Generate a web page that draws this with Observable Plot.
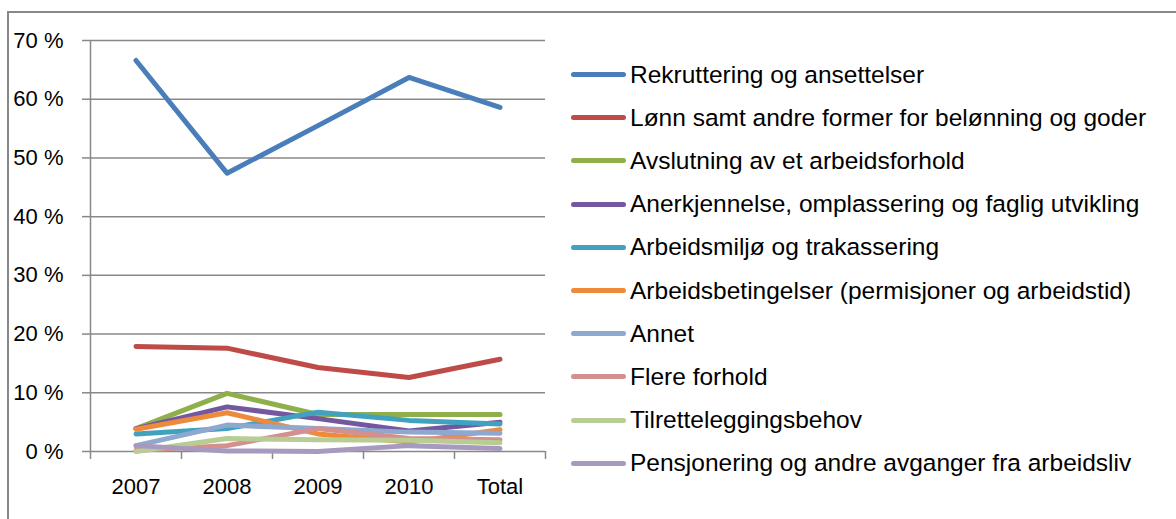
<!DOCTYPE html>
<html><head><meta charset="utf-8">
<script src="https://cdn.jsdelivr.net/npm/d3@7"></script>
<script src="https://cdn.jsdelivr.net/npm/@observablehq/plot@0.6"></script>
<style>
body{margin:0;background:#fff;}
#wrap{position:relative;width:1176px;height:519px;overflow:hidden;font-family:"Liberation Sans",Arial,sans-serif;background:#fff;}
#frame{position:absolute;left:7px;top:11px;width:1200px;height:600px;border-left:2px solid #888;border-top:2px solid #888;}
#chart{position:absolute;left:0;top:0;}
#legend{position:absolute;left:571px;top:53px;}
.item{display:flex;align-items:center;height:43.2px;font-size:24.5px;color:#000;white-space:nowrap;}
.sw{width:55px;height:5px;border-radius:3px;margin-right:4px;}
</style></head>
<body>
<div id="wrap"><div id="frame"></div><div id="chart"></div><div id="legend"></div></div>
<script>
const categories = ["2007","2008","2009","2010","Total"];
const seriesNames = [
  "Rekruttering og ansettelser",
  "Lønn samt andre former for belønning og goder",
  "Avslutning av et arbeidsforhold",
  "Anerkjennelse, omplassering og faglig utvikling",
  "Arbeidsmiljø og trakassering",
  "Arbeidsbetingelser (permisjoner og arbeidstid)",
  "Annet",
  "Flere forhold",
  "Tilretteleggingsbehov",
  "Pensjonering og andre avganger fra arbeidsliv"
];
const seriesColors = ["#4A7EBB","#BE4B48","#8FAF4C","#7358A0","#40A2BE","#EE8A3C","#8EA8D0","#D3908F","#B7CD94","#A89ABF"];
const rekruttering   = [66.6, 47.4, 55.5, 63.7, 58.6];
const lonn           = [17.9, 17.6, 14.3, 12.6, 15.7];
const avslutning     = [3.9, 9.9, 6.3, 6.3, 6.3];
const anerkjennelse  = [3.9, 7.6, 5.6, 3.5, 5.0];
const arbeidsmiljo   = [3.0, 3.9, 6.7, 5.3, 4.7];
const arbeidsbeting  = [3.8, 6.6, 3.0, 1.6, 3.7];
const annet          = [1.0, 4.5, 3.9, 3.3, 3.1];
const flereForhold   = [0.2, 1.0, 3.9, 2.2, 2.0];
const tilrettelegg   = [0.0, 2.2, 2.0, 1.9, 1.5];
const pensjonering   = [1.0, 0.1, 0.0, 1.0, 0.5];
const yTicks = [0,10,20,30,40,50,60,70];

const seriesValues = [rekruttering, lonn, avslutning, anerkjennelse, arbeidsmiljo, arbeidsbeting, annet, flereForhold, tilrettelegg, pensjonering];
const data = seriesNames.flatMap((s,k) => seriesValues[k].map((v,i) => ({series:s, i, value:v})));
const idx = categories.map((c,i) => i);
const bounds = d3.range(-0.5, categories.length, 1);
const font = '"Liberation Sans", Arial, sans-serif';

const chart = Plot.plot({
  width: 560, height: 519,
  marginLeft: 90, marginRight: 15, marginTop: 40, marginBottom: 68,
  x: {type: "linear", domain: [-0.5, categories.length - 0.5]},
  y: {domain: [0, 70]},
  color: {domain: seriesNames, range: seriesColors},
  style: {fontFamily: font, fontSize: "22px", color: "#000", background: "transparent", overflow: "visible"},
  marks: [
    Plot.ruleY(yTicks, {stroke: "#888", strokeWidth: 1.5}),
    Plot.ruleX([-0.5], {stroke: "#888", strokeWidth: 1.5, y1: 0, y2: 70}),
    Plot.axisY({ticks: yTicks, tickSize: 8, tickPadding: 19, tickFormat: d => d + " %", stroke: "#888", strokeWidth: 1.5, strokeOpacity: 1, label: null, fill: "#000"}),
    Plot.axisX({ticks: bounds, tickSize: 8, tickFormat: () => "", stroke: "#888", strokeWidth: 1.5, strokeOpacity: 1, label: null}),
    Plot.axisX({ticks: idx, tickSize: 0, tickPadding: 27, tickFormat: i => categories[i], label: null, fill: "#000"}),
    Plot.line(data, {x: "i", y: "value", z: "series", stroke: "series", strokeWidth: 5, strokeLinecap: "round", strokeLinejoin: "round"})
  ]
});
document.getElementById("chart").appendChild(chart);

const legend = document.getElementById("legend");
seriesNames.forEach((s,k) => {
  const it = document.createElement("div"); it.className = "item";
  const sw = document.createElement("div"); sw.className = "sw"; sw.style.background = seriesColors[k];
  const tx = document.createElement("span"); tx.textContent = s;
  it.appendChild(sw); it.appendChild(tx); legend.appendChild(it);
});
</script>
</body></html>
